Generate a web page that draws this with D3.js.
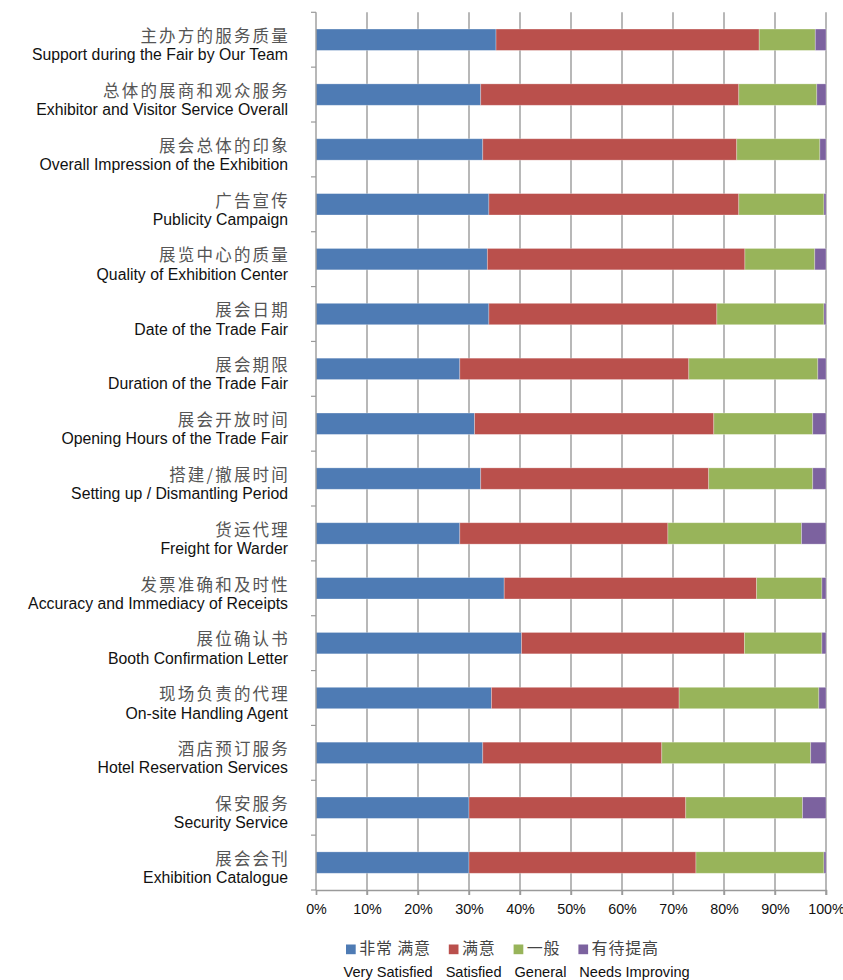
<!DOCTYPE html>
<html>
<head>
<meta charset="utf-8">
<script src="https://cdn.jsdelivr.net/npm/d3@7"></script>
<style>
  html, body { margin: 0; padding: 0; background: #fff; }
  svg { display: block; }
</style>
</head>
<body>
<div id="chart"></div>
<script>
// ---- data ----
const categoriesZh = ["主办方的服务质量","总体的展商和观众服务","展会总体的印象","广告宣传","展览中心的质量","展会日期","展会期限","展会开放时间","搭建/撤展时间","货运代理","发票准确和及时性","展位确认书","现场负责的代理","酒店预订服务","保安服务","展会会刊"];
const categoriesEn = ["Support during the Fair by Our Team","Exhibitor and Visitor Service Overall","Overall Impression of the Exhibition","Publicity Campaign","Quality of Exhibition Center","Date of the Trade Fair","Duration of the Trade Fair","Opening Hours of the Trade Fair","Setting up / Dismantling Period","Freight for Warder","Accuracy and Immediacy of Receipts","Booth Confirmation Letter","On-site Handling Agent","Hotel Reservation Services","Security Service","Exhibition Catalogue"];
const seriesZh = ["非常 满意","满意","一般","有待提高"];
const seriesEn = ["Very Satisfied","Satisfied","General","Needs Improving"];
const verySatisfied = [35.3,32.3,32.7,33.9,33.6,33.9,28.2,31.1,32.3,28.2,36.9,40.3,34.4,32.7,30.0,30.0];
const satisfied     = [51.6,50.6,49.8,49.0,50.5,44.7,44.9,46.9,44.7,40.8,49.5,43.7,36.8,35.1,42.5,44.5];
const general       = [11.0,15.3,16.3,16.7,13.7,21.0,25.3,19.4,20.4,26.2,12.8,15.2,27.4,29.2,22.9,25.1];
const needsImproving= [ 2.1, 1.8, 1.2, 0.4, 2.2, 0.4, 1.6, 2.6, 2.6, 4.8, 0.8, 0.8, 1.4, 3.0, 4.6, 0.4];
const tickValues = [0,10,20,30,40,50,60,70,80,90,100];
const colors = ["#4E7BB4","#BA504C","#98B45A","#7C629F"];

// ---- layout ----
const W = 843, H = 980;
const plotL = 316, plotR = 826, plotT = 12.3, plotB = 890;

const svg = d3.select("#chart").append("svg").attr("width", W).attr("height", H);

const x = d3.scaleLinear().domain([0,100]).range([plotL, plotR]);
const y = d3.scaleBand().domain(d3.range(categoriesZh.length)).range([plotT, plotB]).paddingInner(0.61).paddingOuter(0.305);

const seriesArrays = [verySatisfied, satisfied, general, needsImproving];
const table = categoriesZh.map((c,i) => {
  const o = {idx:i};
  seriesArrays.forEach((a,k) => o["s"+k] = a[i]);
  return o;
});
const stack = d3.stack().keys(["s0","s1","s2","s3"]).offset(d3.stackOffsetExpand);
const stacked = stack(table);

// gridlines
svg.append("g").selectAll("line").data(tickValues.slice(1)).join("line")
  .attr("x1", d => x(d)).attr("x2", d => x(d))
  .attr("y1", plotT).attr("y2", plotB + 5)
  .attr("stroke", "#9a9a9a").attr("stroke-width", 1.4);

// bars
svg.append("g").selectAll("g").data(stacked).join("g")
  .attr("fill", (d,k) => colors[k])
  .selectAll("rect").data(d => d).join("rect")
  .attr("x", d => x(d[0]*100))
  .attr("width", d => Math.max(0, x(d[1]*100) - x(d[0]*100)))
  .attr("y", d => y(d.data.idx))
  .attr("height", y.bandwidth())
  .attr("stroke", "rgba(255,255,255,0.35)").attr("stroke-width", 0.8);

// y axis line & ticks at band boundaries
const step = y.step();
svg.append("line").attr("x1", plotL).attr("x2", plotL).attr("y1", plotT).attr("y2", plotB)
  .attr("stroke", "#9a9a9a").attr("stroke-width", 1.4);
svg.append("g").selectAll("line").data(d3.range(categoriesZh.length + 1)).join("line")
  .attr("x1", plotL - 5).attr("x2", plotL)
  .attr("y1", i => plotT + i*step).attr("y2", i => plotT + i*step)
  .attr("stroke", "#9a9a9a").attr("stroke-width", 1.2);

// x axis
const xAxis = d3.axisBottom(x).tickValues(tickValues).tickFormat(d => d + "%").tickSize(5).tickPadding(9);
const gx = svg.append("g").attr("transform", `translate(0,${plotB})`).call(xAxis);
gx.select(".domain").attr("stroke", "#9a9a9a").attr("stroke-width", 1.4);
gx.selectAll(".tick line").attr("stroke", "#9a9a9a").attr("stroke-width", 1.4);
gx.selectAll(".tick text").attr("fill", "#111").style("font-family", "'Liberation Sans', Arial, sans-serif").style("font-size", "14.3px");

// category labels
const lab = svg.append("g");
lab.selectAll("text.zh").data(categoriesZh).join("text").attr("class","zh")
  .attr("x", 290).attr("y", (d,i) => y(i) + y.bandwidth()/2 + 2.3)
  .attr("text-anchor", "end")
  .style("font-family", "'Noto Sans CJK SC', sans-serif").style("font-size", "16.5px")
  .style("letter-spacing", "2.2px")
  .attr("fill", "#555").text(d => d);
lab.selectAll("text.en").data(categoriesEn).join("text").attr("class","en")
  .attr("x", 288).attr("y", (d,i) => y(i) + y.bandwidth()/2 + 20.5)
  .attr("text-anchor", "end")
  .style("font-family", "'Liberation Sans', Arial, sans-serif").style("font-size", "15.8px")
  .attr("fill", "#111").text(d => d);

// legend
const leg = svg.append("g");
let lx = 346;
seriesZh.forEach((s,k) => {
  leg.append("rect").attr("x", lx).attr("y", 944.5).attr("width", 9.7).attr("height", 9.7).attr("fill", colors[k]);
  const t = leg.append("text").attr("x", lx + 13.2).attr("y", 953.5)
    .style("font-family", "'Noto Sans CJK SC', sans-serif").style("font-size", "16px")
    .style("letter-spacing", "0.8px")
    .attr("fill", "#444").text(s);
  lx += 13.2 + t.node().getComputedTextLength() + 18;
});
let ex = 343.5;
seriesEn.forEach((s,k) => {
  const t = leg.append("text").attr("x", ex).attr("y", 976.5)
    .style("font-family", "'Liberation Sans', Arial, sans-serif").style("font-size", "14.6px")
    .attr("fill", "#111").text(s);
  ex += t.node().getComputedTextLength() + 12.9;
});
</script>
</body>
</html>
